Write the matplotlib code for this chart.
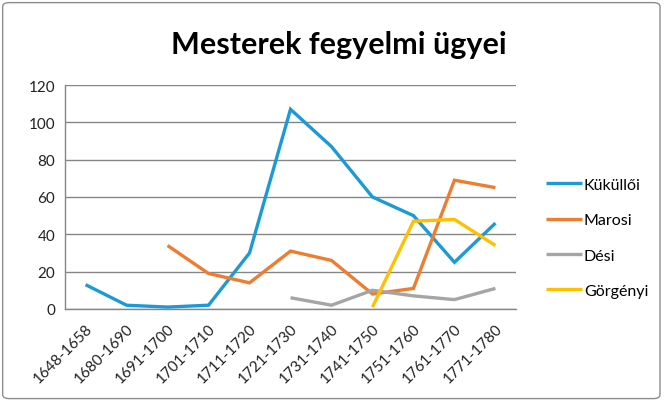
import matplotlib
matplotlib.use("Agg")
import matplotlib.pyplot as plt
import numpy as np
from matplotlib.patches import FancyBboxPatch

categories = ["1648-1658", "1680-1690", "1691-1700", "1701-1710", "1711-1720",
              "1721-1730", "1731-1740", "1741-1750", "1751-1760", "1761-1770", "1771-1780"]
kukulloi = [13, 2, 1, 2, 30, 107, 87, 60, 50, 25, 46]
marosi = [None, None, 34, 19, 14, 31, 26, 8, 11, 69, 65]
desi = [None, None, None, None, None, 6, 2, 10, 7, 5, 11]
gorgenyi = [None, None, None, None, None, None, None, 1, 47, 48, 34]
series_names = ["Küküllői", "Marosi", "Dési", "Görgényi"]
colors = ["#1C9AD6", "#ED7D31", "#A5A5A5", "#FFC000"]
yticks = [0, 20, 40, 60, 80, 100, 120]

plt.rcParams['font.family'] = ['Lato', 'DejaVu Sans']

fig = plt.figure(figsize=(6.64, 4.02), dpi=100)
ax = fig.add_axes([0.098, 0.229, 0.679, 0.557])

x = np.arange(len(categories))
for vals, name, c in zip([kukulloi, marosi, desi, gorgenyi], series_names, colors):
    y = np.array([np.nan if v is None else v for v in vals], dtype=float)
    ax.plot(x, y, color=c, lw=2.4, label=name, solid_capstyle='butt', solid_joinstyle='miter')

ax.set_xlim(-0.5, len(categories) - 0.5)
ax.set_ylim(0, 120)
ax.set_yticks(yticks)
ax.set_yticklabels([str(v) for v in yticks], fontsize=11, color='#222222')
ax.set_xticks(x)
ax.set_xticklabels(categories, rotation=45, ha='right', rotation_mode='anchor', fontsize=11, color='#222222')
ax.tick_params(axis='both', length=0, pad=7)
ax.tick_params(axis='x', pad=9)
ax.grid(axis='y', color='#868686', lw=1.0)
ax.set_axisbelow(True)
for s in ['top', 'right']:
    ax.spines[s].set_visible(False)
ax.spines['left'].set_color('#868686')
ax.spines['bottom'].set_color('#868686')
ax.spines['left'].set_linewidth(1.0)
ax.spines['bottom'].set_linewidth(1.0)

fig.text(0.511, 0.888, "Mesterek fegyelmi ügyei", ha='center', va='center',
         fontsize=22, fontweight='bold', color='#000000')

leg = fig.legend(loc='center left', bbox_to_anchor=(0.8, 0.406), frameon=False,
                 fontsize=11.5, handlelength=2.3, handletextpad=0.1, labelspacing=1.33)

border = FancyBboxPatch((0.004, 0.006), 0.99, 0.985, boxstyle="round,pad=0,rounding_size=0.01",
                        transform=fig.transFigure, fill=False, edgecolor='#8c8c8c', lw=1.0)
fig.patches.append(border)

fig.savefig("out.png", dpi=100)
